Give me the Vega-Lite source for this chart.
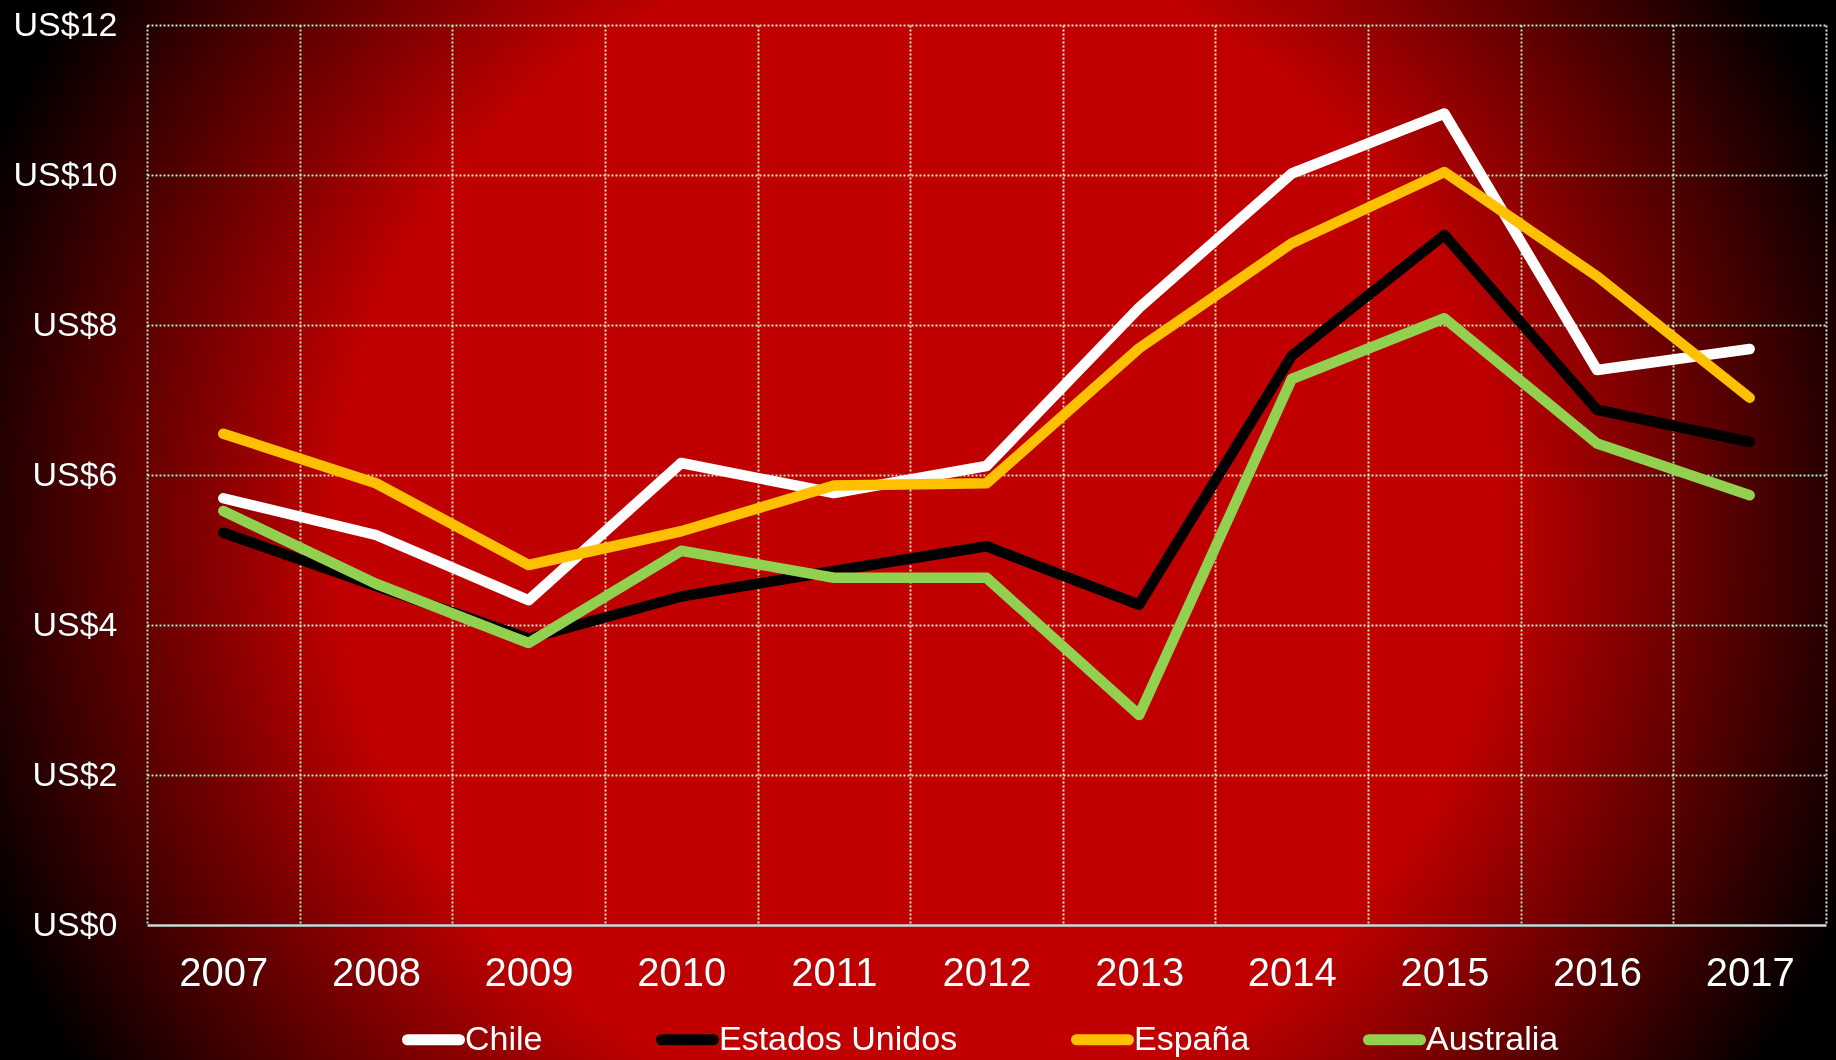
{
  "$schema": "https://vega.github.io/schema/vega-lite/v6.json",
  "width": 1679,
  "height": 900,
  "autosize": {"type": "none"},
  "padding": {"left": 147, "top": 25, "right": 10, "bottom": 135},
  "background": "#000000",
  "config": {"view": {"stroke": null}, "font": "Liberation Sans"},
  "layer": [
    {
      "data": {"values": [{"fondo": "degradado"}]},
      "mark": {
        "type": "rect",
        "blend": "lighten",
        "fill": {
          "gradient": "radial",
          "x1": 0.5, "y1": 0.5, "r1": 0,
          "x2": 0.5, "y2": 0.5, "r2": 0.5,
          "stops": [
            {"offset": 0, "color": "#C00000"},
            {"offset": 0.58, "color": "#C00000"},
            {"offset": 1, "color": "#000000"}
          ]
        }
      },
      "encoding": {
        "x": {
          "datum": 2005.5369,
          "type": "quantitative",
          "scale": {"domain": [2006.5, 2017.5], "nice": false, "zero": false}
        },
        "x2": {"datum": 2017.5655},
        "y": {
          "datum": 18.6,
          "type": "quantitative",
          "scale": {"domain": [0, 12], "nice": false, "zero": false}
        },
        "y2": {"datum": -8.067}
      }
    },
    {
      "data": {
        "values": [
          {"pais": "Chile", "anio": 2007, "valor": 5.69},
          {"pais": "Chile", "anio": 2008, "valor": 5.20},
          {"pais": "Chile", "anio": 2009, "valor": 4.33},
          {"pais": "Chile", "anio": 2010, "valor": 6.16},
          {"pais": "Chile", "anio": 2011, "valor": 5.76},
          {"pais": "Chile", "anio": 2012, "valor": 6.12},
          {"pais": "Chile", "anio": 2013, "valor": 8.23},
          {"pais": "Chile", "anio": 2014, "valor": 10.02},
          {"pais": "Chile", "anio": 2015, "valor": 10.82},
          {"pais": "Chile", "anio": 2016, "valor": 7.40},
          {"pais": "Chile", "anio": 2017, "valor": 7.68},
          {"pais": "Estados Unidos", "anio": 2007, "valor": 5.23},
          {"pais": "Estados Unidos", "anio": 2008, "valor": 4.52},
          {"pais": "Estados Unidos", "anio": 2009, "valor": 3.82},
          {"pais": "Estados Unidos", "anio": 2010, "valor": 4.38},
          {"pais": "Estados Unidos", "anio": 2011, "valor": 4.72},
          {"pais": "Estados Unidos", "anio": 2012, "valor": 5.05},
          {"pais": "Estados Unidos", "anio": 2013, "valor": 4.27},
          {"pais": "Estados Unidos", "anio": 2014, "valor": 7.59},
          {"pais": "Estados Unidos", "anio": 2015, "valor": 9.20},
          {"pais": "Estados Unidos", "anio": 2016, "valor": 6.87},
          {"pais": "Estados Unidos", "anio": 2017, "valor": 6.44},
          {"pais": "España", "anio": 2007, "valor": 6.55},
          {"pais": "España", "anio": 2008, "valor": 5.89},
          {"pais": "España", "anio": 2009, "valor": 4.80},
          {"pais": "España", "anio": 2010, "valor": 5.25},
          {"pais": "España", "anio": 2011, "valor": 5.86},
          {"pais": "España", "anio": 2012, "valor": 5.89},
          {"pais": "España", "anio": 2013, "valor": 7.69},
          {"pais": "España", "anio": 2014, "valor": 9.09},
          {"pais": "España", "anio": 2015, "valor": 10.04},
          {"pais": "España", "anio": 2016, "valor": 8.65},
          {"pais": "España", "anio": 2017, "valor": 7.03},
          {"pais": "Australia", "anio": 2007, "valor": 5.52},
          {"pais": "Australia", "anio": 2008, "valor": 4.55},
          {"pais": "Australia", "anio": 2009, "valor": 3.76},
          {"pais": "Australia", "anio": 2010, "valor": 4.99},
          {"pais": "Australia", "anio": 2011, "valor": 4.63},
          {"pais": "Australia", "anio": 2012, "valor": 4.63},
          {"pais": "Australia", "anio": 2013, "valor": 2.80},
          {"pais": "Australia", "anio": 2014, "valor": 7.28},
          {"pais": "Australia", "anio": 2015, "valor": 8.09},
          {"pais": "Australia", "anio": 2016, "valor": 6.42},
          {"pais": "Australia", "anio": 2017, "valor": 5.73}
        ]
      },
      "mark": {"type": "line", "strokeWidth": 10.5, "strokeCap": "round", "strokeJoin": "round"},
      "encoding": {
        "x": {
          "field": "anio",
          "type": "quantitative",
          "scale": {"domain": [2006.5, 2017.5], "nice": false, "zero": false},
          "axis": {
            "values": [2006.5, 2007.5, 2008.5, 2009.5, 2010.5, 2011.5, 2012.5, 2013.5, 2014.5, 2015.5, 2016.5, 2017.5],
            "labelExpr": "datum.value < 2017 ? '' + (datum.value + 0.5) : ''",
            "labelOffset": 76.32,
            "grid": true,
            "gridColor": "#F5E8C8",
            "gridDash": [2, 2],
            "gridWidth": 2,
            "ticks": false,
            "tickSize": 0,
            "domain": true,
            "domainColor": "#D9D9D9",
            "domainWidth": 2.5,
            "labelColor": "#FFFFFF",
            "labelFont": "Liberation Sans",
            "labelFontSize": 40,
            "labelPadding": 28,
            "labelFlush": false,
            "labelOverlap": false,
            "title": null
          }
        },
        "y": {
          "field": "valor",
          "type": "quantitative",
          "scale": {"domain": [0, 12], "nice": false, "zero": false},
          "axis": {
            "values": [0, 2, 4, 6, 8, 10, 12],
            "grid": true,
            "gridColor": "#F5E8C8",
            "gridDash": [2, 2],
            "gridWidth": 2,
            "gridOpacity": {"condition": {"test": "datum.value === 0", "value": 0}, "value": 1},
            "domain": false,
            "ticks": false,
            "tickSize": 0,
            "labelExpr": "'US$' + datum.value",
            "labelColor": "#FFFFFF",
            "labelFont": "Liberation Sans",
            "labelFontSize": 34,
            "labelPadding": 30,
            "labelFlush": false,
            "title": null
          }
        },
        "color": {
          "field": "pais",
          "type": "nominal",
          "scale": {
            "domain": ["Chile", "Estados Unidos", "España", "Australia"],
            "range": ["#FFFFFF", "#000000", "#FFC000", "#92D050"]
          },
          "legend": {
            "orient": "none",
            "legendX": 255,
            "legendY": 983,
            "direction": "horizontal",
            "title": null,
            "symbolType": "stroke",
            "symbolSize": 2704,
            "symbolStrokeWidth": 11,
            "labelFont": "Liberation Sans",
            "labelFontSize": 34,
            "labelColor": "#FFFFFF",
            "labelOffset": 0,
            "labelLimit": 400,
            "columnPadding": 96,
            "encoding": {"symbols": {"strokeCap": {"value": "round"}}}
          }
        }
      }
    }
  ]
}
